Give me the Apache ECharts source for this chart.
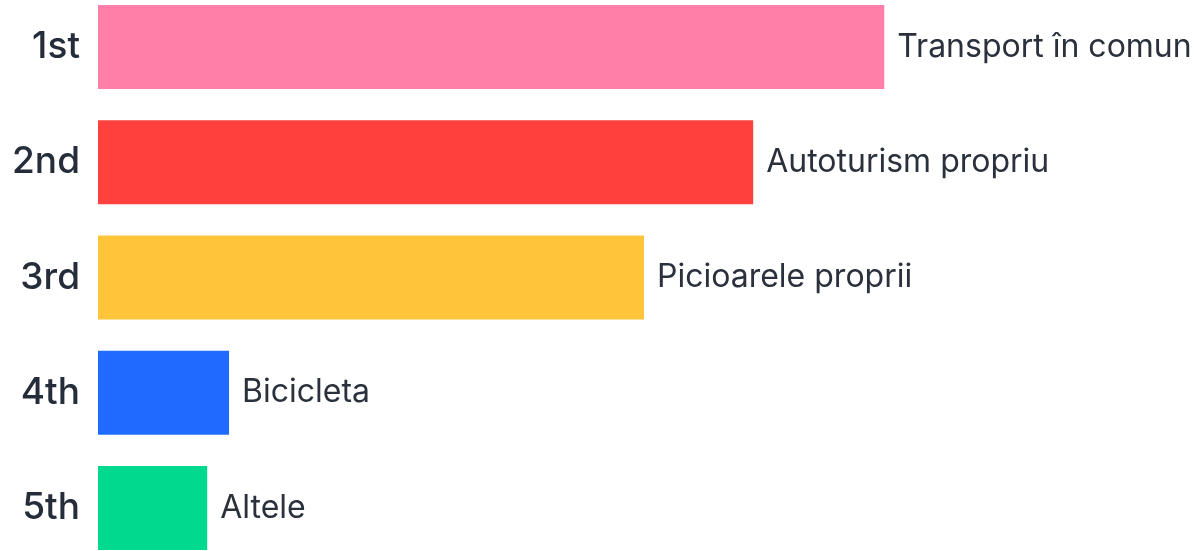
<!DOCTYPE html>
<html>
<head>
<meta charset="utf-8">
<script src="https://cdn.jsdelivr.net/npm/echarts@6/dist/echarts.min.js"></script>
<style>
  html, body { margin: 0; padding: 0; background: #fff; }
  #container { width: 1196px; height: 551px; }
</style>
</head>
<body>
<div id="container"></div>
<script>
/* data */
var ranks = ['1st', '2nd', '3rd', '4th', '5th'];
var modes = ['Transport în comun', 'Autoturism propriu', 'Picioarele proprii', 'Bicicleta', 'Altele'];
var values = [36, 30, 25, 6, 5];
var colors = ['#ff7fa8', '#ff403d', '#ffc43a', '#1f6bff', '#00d98e'];

var dom = document.getElementById('container');
var myChart = echarts.init(dom);

var option = {
    animation: false,
    grid: {
        left: 98,
        right: 6,
        top: 47,
        bottom: 43
    },
    xAxis: {
        type: 'value',
        min: 0,
        max: 50,
        show: false
    },
    yAxis: {
        type: 'category',
        inverse: true,
        boundaryGap: false,
        data: ranks,
        axisLine: { show: false },
        axisTick: { show: false },
        axisLabel: {
            margin: 18,
            color: '#262d3a',
            fontSize: 37,
            fontWeight: 500,
            fontFamily: 'Inter'
        }
    },
    series: [{
        type: 'bar',
        barWidth: 84,
        data: values.map(function (v, i) {
            return { value: v, itemStyle: { color: colors[i] } };
        }),
        label: {
            show: true,
            position: 'right',
            distance: 13,
            color: '#2a313d',
            fontSize: 32,
            fontFamily: 'Inter',
            formatter: function (p) {
                return modes[p.dataIndex];
            }
        }
    }]
};

myChart.setOption(option, true);
</script>
</body>
</html>
